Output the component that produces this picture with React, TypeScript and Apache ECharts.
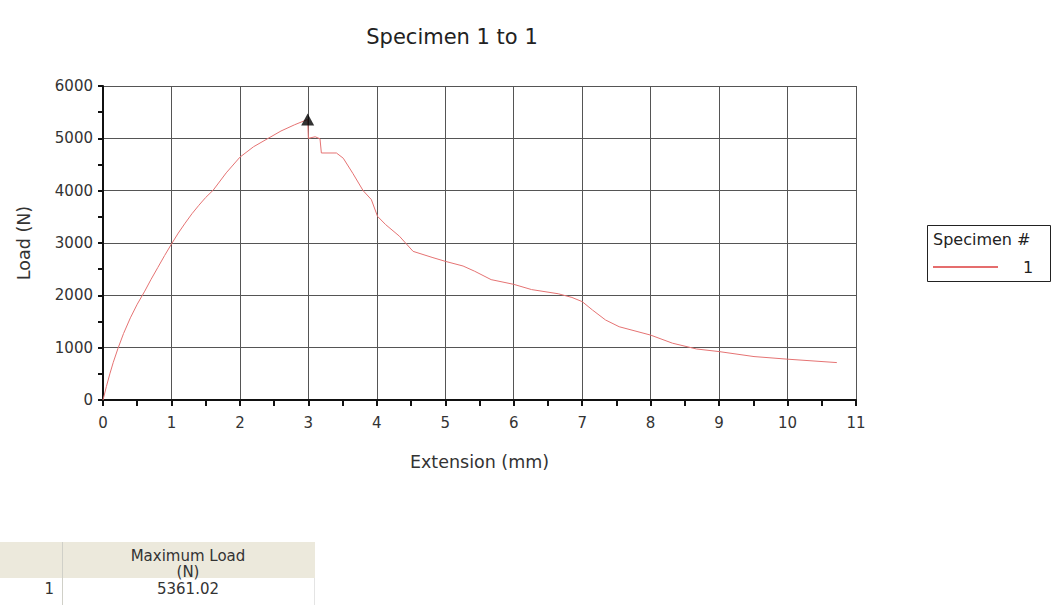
import React, { useEffect, useRef } from "react";
import * as echarts from "echarts";

const title = "Specimen 1 to 1";
const xAxisName = "Extension (mm)";
const yAxisName = "Load (N)";
const seriesName = "1";
const legendTitle = "Specimen #";

// Extension (mm)
const extension = [
  0, 0.05, 0.1, 0.15, 0.22, 0.3, 0.4, 0.5, 0.61, 0.7, 0.8, 0.9, 1.0, 1.1, 1.2,
  1.3, 1.4, 1.5, 1.61, 1.8, 2.0, 2.2, 2.44, 2.6, 2.8, 2.99, 3.0, 3.1, 3.17,
  3.19, 3.41, 3.51, 3.65, 3.8, 3.92, 4.01, 4.13, 4.33, 4.53, 4.82, 5.0, 5.26,
  5.43, 5.67, 6.0, 6.26, 6.65, 6.85, 7.0, 7.15, 7.34, 7.54, 8.0, 8.32, 8.67,
  9.0, 9.51, 10.0, 10.72,
];
// Load (N)
const load = [
  0, 260, 500, 720, 990, 1270, 1570, 1830, 2080, 2300, 2530, 2760, 2980, 3190,
  3380, 3560, 3720, 3870, 4010, 4340, 4640, 4840, 5020, 5140, 5260, 5361, 5000,
  5030, 4990, 4720, 4720, 4620, 4330, 4000, 3830, 3510, 3350, 3130, 2840, 2720,
  2650, 2560, 2460, 2300, 2210, 2110, 2030, 1960, 1880, 1720, 1530, 1400, 1240,
  1085, 975, 925, 830, 780, 715,
];
const peak = [2.99, 5361.02];

const tableHeader = ["Maximum Load", "(N)"];
const tableRowLabel = "1";
const tableValue = "5361.02";

export default function App() {
  const ref = useRef<HTMLDivElement>(null);
  useEffect(() => {
    if (!ref.current) return;
    const chart = echarts.init(ref.current, undefined, { renderer: "svg" });
    const font = "DejaVu Sans";
    chart.setOption({
      animation: false,
      backgroundColor: "#ffffff",
      textStyle: { fontFamily: font },
      title: {
        text: title,
        left: 447,
        top: 21,
        textAlign: "center",
        textStyle: { fontFamily: font, fontSize: 21, fontWeight: "normal", color: "#222" },
      },
      grid: { left: 103, top: 86, right: 199, bottom: 205 },
      xAxis: {
        type: "value",
        min: 0,
        max: 11,
        interval: 1,
        name: xAxisName,
        nameLocation: "middle",
        nameGap: 53,
        nameTextStyle: { fontFamily: font, fontSize: 17.5, color: "#333" },
        axisLine: { show: true, onZero: false, lineStyle: { color: "#111", width: 2 } },
        axisTick: { show: true, length: 6, lineStyle: { color: "#111", width: 2 } },
        minorTick: { show: true, splitNumber: 2, length: 6, lineStyle: { color: "#111", width: 2 } },
        axisLabel: { fontFamily: font, fontSize: 15, color: "#333", margin: 15 },
        splitLine: { show: true, lineStyle: { color: "#555", width: 1 } },
      },
      yAxis: {
        type: "value",
        min: 0,
        max: 6000,
        interval: 1000,
        name: yAxisName,
        nameLocation: "middle",
        nameGap: 70,
        nameTextStyle: { fontFamily: font, fontSize: 17.5, color: "#333" },
        axisLine: { show: true, onZero: false, lineStyle: { color: "#111", width: 2 } },
        axisTick: { show: true, length: 5, lineStyle: { color: "#111", width: 2 } },
        minorTick: { show: true, splitNumber: 2, length: 5, lineStyle: { color: "#111", width: 2 } },
        axisLabel: {
          fontFamily: font,
          fontSize: 15,
          color: "#333",
          margin: 10,
          formatter: (v: number) => String(v),
        },
        splitLine: { show: true, lineStyle: { color: "#555", width: 1 } },
      },
      legend: {
        show: true,
        left: 933,
        top: 259,
        data: [{ name: seriesName, icon: "rect" }],
        itemWidth: 65,
        itemHeight: 1.5,
        itemGap: 0,
        padding: 0,
        textStyle: { fontFamily: font, fontSize: 16, color: "#222", padding: [0, 0, 0, 20] },
      },
      series: [
        {
          name: seriesName,
          type: "line",
          data: extension.map((x, i) => [x, load[i]]),
          symbol: "none",
          smooth: false,
          lineStyle: { color: "#e57373", width: 1 },
          itemStyle: { color: "#dd3c3c" },
        },
        {
          name: "peak",
          type: "scatter",
          data: [peak],
          symbol: "triangle",
          symbolSize: [13, 12],
          itemStyle: { color: "#000" },
          z: 5,
        },
      ],
      graphic: [
        {
          type: "rect",
          shape: { x: 927.5, y: 225.5, width: 123, height: 56 },
          style: { fill: "none", stroke: "#222", lineWidth: 1 },
        },
        {
          type: "text",
          x: 933,
          y: 231,
          style: { text: legendTitle, fontFamily: font, fontSize: 16, fill: "#222" },
        },
        // table
        {
          type: "rect",
          shape: { x: 0, y: 542, width: 315, height: 36 },
          style: { fill: "#ece9dc", stroke: "none" },
        },
        {
          type: "line",
          shape: { x1: 62.5, y1: 542, x2: 62.5, y2: 605 },
          style: { stroke: "#d0d0c8", lineWidth: 1 },
        },
        {
          type: "line",
          shape: { x1: 314.5, y1: 578, x2: 314.5, y2: 605 },
          style: { stroke: "#e4e4e4", lineWidth: 1 },
        },
        {
          type: "text",
          x: 188,
          y: 548,
          style: {
            text: tableHeader.join("\n"),
            fontFamily: font,
            fontSize: 15,
            lineHeight: 16,
            fill: "#333",
            align: "center",
          },
        },
        {
          type: "text",
          x: 54,
          y: 581,
          style: { text: tableRowLabel, fontFamily: font, fontSize: 15, fill: "#333", align: "right" },
        },
        {
          type: "text",
          x: 188,
          y: 581,
          style: { text: tableValue, fontFamily: font, fontSize: 15, fill: "#333", align: "center" },
        },
      ],
    });
    return () => chart.dispose();
  }, []);
  return (
    <div
      ref={ref}
      style={{ position: "fixed", left: 0, top: 0, width: 1055, height: 605, background: "#fff" }}
    />
  );
}
